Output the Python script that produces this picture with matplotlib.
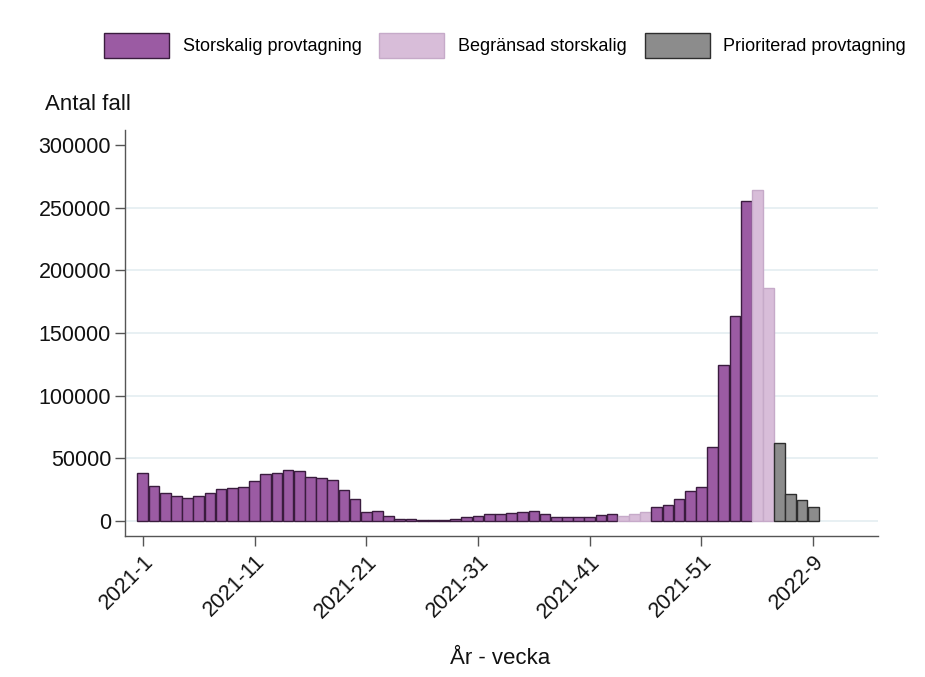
import matplotlib.pyplot as plt
from matplotlib.patches import Patch
import numpy as np

plt.rcParams['font.family'] = ['Liberation Sans', 'DejaVu Sans']

# weeks 2021-1 .. 2021-52, 2022-1 .. 2022-9
weeks = [f"2021-{w}" for w in range(1, 53)] + [f"2022-{w}" for w in range(1, 10)]

# number of cases per week
cases = [38500, 28200, 22600, 19900, 18600, 19900, 22600, 25800, 26600, 27400,
         32200, 37500, 38000, 40700, 39900, 34800, 34300, 32400, 24700, 17500,
         7500, 8200, 4000, 1900, 1500, 1000, 600, 1000, 1500, 2900,
         4000, 5600, 5600, 6000, 7200, 7800, 5600, 3500, 3000, 3000,
         3000, 4500, 5600, 4000, 5600, 6900, 10900, 12800, 17600, 23900,
         27400, 58800, 124500, 163800, 255600, 264100, 185600, 62000, 21500, 16800,
         11400]

# test regime: 0 = storskalig, 1 = begränsad storskalig, 2 = prioriterad
regime = [0] * 43 + [1] * 3 + [0] * 9 + [1] * 2 + [2] * 4

regime_names = ["Storskalig provtagning", "Begränsad storskalig", "Prioriterad provtagning"]
fills = ["#9b5ba3", "#d8bdd9", "#8c8c8c"]
edges = ["#3a1c3e", "#c6aac9", "#2e2e2e"]

tick_labels = ["2021-1", "2021-11", "2021-21", "2021-31", "2021-41", "2021-51", "2022-9"]
yticks = [0, 50000, 100000, 150000, 200000, 250000, 300000]

fig = plt.figure(figsize=(9.25, 6.77), dpi=100)
ax = fig.add_axes([0.1351, 0.2083, 0.8141, 0.5997])

x = np.arange(len(weeks))
ax.bar(x, cases, width=0.96,
       color=[fills[r] for r in regime],
       edgecolor=[edges[r] for r in regime], linewidth=1.0, zorder=3)

# light grid like stata's default scheme
for v in yticks[:-1]:
    ax.axhline(v, color="#e6eff2", linewidth=1.3, zorder=1)

ax.set_xlim(-1.6, 65.8)
ax.set_ylim(-12000, 312000)
ax.set_yticks(yticks)
ax.set_yticklabels([str(v) for v in yticks])
ax.set_xticks([weeks.index(t) for t in tick_labels])
ax.set_xticklabels(tick_labels, rotation=45, ha="right", rotation_mode="anchor")

ax.tick_params(axis="both", labelsize=15.5, length=7, width=1.0, color="#555555",
               labelcolor="#111111", direction="out")
ax.tick_params(axis="x", pad=4)
ax.tick_params(axis="y", pad=3)

for side in ["top", "right"]:
    ax.spines[side].set_visible(False)
for side in ["left", "bottom"]:
    ax.spines[side].set_color("#555555")
    ax.spines[side].set_linewidth(1.0)

fig.text(0.049, 0.846, "Antal fall", fontsize=16, color="#111111", va="center")
fig.text(0.541, 0.027, "År - vecka", fontsize=16, color="#111111", ha="center", va="center")

handles = [Patch(facecolor=fills[i], edgecolor=edges[i], linewidth=1.0, label=regime_names[i])
           for i in range(3)]
fig.legend(handles=handles, loc="center", bbox_to_anchor=(0.546, 0.933), ncol=3,
           frameon=False, fontsize=13, handlelength=3.6, handleheight=1.7,
           columnspacing=1.0, handletextpad=0.75)

fig.savefig("out.png", dpi=100)
